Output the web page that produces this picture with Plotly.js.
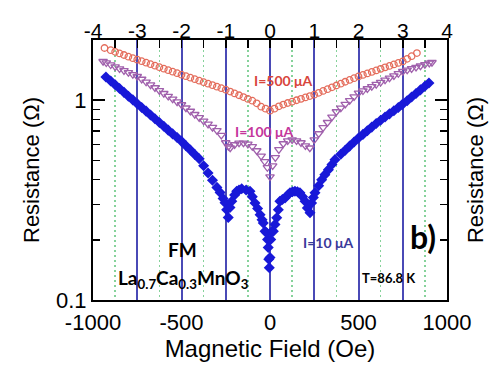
<!DOCTYPE html>
<html>
<head>
<meta charset="utf-8">
<script src="https://cdn.plot.ly/plotly-3.0.1.min.js"></script>
<style>html,body{margin:0;padding:0;background:#fff;}#chart{width:494px;height:365px;}</style>
</head>
<body>
<div id="chart"></div>
<script>
// ---- Data ----
// I = 500 uA (open circles)
const field500 = [-935,-900,-875,-850,-825,-800,-775,-750,-725,-700,-675,-650,-625,-600,-575,-550,-525,-500,-475,-450,-425,-400,-375,-350,-325,-300,-275,-250,-225,-200,-175,-150,-125,-100,-75,-50,-25,0,25,50,75,100,125,150,175,200,225,250,275,300,325,350,375,400,425,450,475,500,525,550,575,600,625,650,675,700,725,750,775,800,830];
const res500 = [1.824,1.778,1.746,1.713,1.683,1.650,1.622,1.594,1.567,1.540,1.514,1.488,1.462,1.437,1.413,1.388,1.365,1.341,1.318,1.296,1.274,1.252,1.230,1.209,1.189,1.168,1.148,1.128,1.104,1.081,1.058,1.036,1.014,0.994,0.964,0.928,0.907,0.886,0.907,0.931,0.950,0.968,0.983,0.999,1.015,1.032,1.048,1.065,1.088,1.112,1.135,1.160,1.184,1.209,1.236,1.262,1.288,1.315,1.338,1.361,1.385,1.409,1.434,1.459,1.484,1.510,1.536,1.563,1.610,1.660,1.721];

// I = 100 uA (open triangles)
const field100 = [-943,-925,-900,-875,-850,-825,-800,-775,-750,-725,-700,-675,-650,-625,-600,-575,-550,-525,-500,-475,-450,-425,-400,-375,-350,-325,-300,-275,-250,-235,-225,-200,-175,-150,-125,-100,-75,-50,-30,-15,0,15,30,50,75,100,125,150,175,200,225,250,275,300,325,350,375,400,425,450,475,500,525,550,575,600,625,650,675,700,725,750,775,800,825,850,875,900,915];
const res100 = [1.563,1.538,1.503,1.470,1.437,1.406,1.376,1.345,1.315,1.274,1.232,1.193,1.155,1.117,1.081,1.047,1.014,0.981,0.950,0.915,0.881,0.849,0.818,0.787,0.759,0.731,0.705,0.668,0.613,0.586,0.577,0.599,0.611,0.611,0.603,0.586,0.559,0.525,0.493,0.460,0.414,0.470,0.516,0.566,0.606,0.627,0.634,0.627,0.613,0.592,0.577,0.634,0.680,0.729,0.774,0.824,0.876,0.914,0.954,0.997,1.040,1.086,1.114,1.142,1.171,1.200,1.230,1.262,1.292,1.326,1.359,1.393,1.416,1.439,1.461,1.484,1.508,1.533,1.545];

// I = 10 uA (filled diamonds)
const field10 = [-927,-900,-875,-850,-825,-800,-775,-750,-725,-700,-675,-650,-625,-600,-575,-550,-525,-500,-475,-450,-425,-400,-375,-350,-325,-300,-282,-265,-254,-245,-236,-226,-216,-200,-188,-175,-160,-135,-113,-100,-85,-70,-56,-45,-38,-28,-19,-14,-10,-7,-4,0,4,10,19,28,38,47,56,70,85,100,113,127,141,155,169,184,198,211,226,235,245,254,275,292,310,330,350,367,400,425,450,475,500,525,550,575,600,625,650,675,700,725,747,775,800,825,850,875,898];
const res10 = [1.306,1.246,1.193,1.143,1.094,1.047,1.003,0.960,0.919,0.881,0.843,0.807,0.773,0.740,0.708,0.678,0.650,0.622,0.592,0.563,0.535,0.509,0.470,0.432,0.397,0.366,0.345,0.322,0.307,0.283,0.259,0.290,0.312,0.335,0.350,0.355,0.360,0.355,0.350,0.329,0.306,0.287,0.267,0.252,0.243,0.221,0.217,0.201,0.183,0.160,0.145,0.163,0.201,0.220,0.221,0.239,0.258,0.283,0.312,0.318,0.324,0.335,0.344,0.348,0.350,0.348,0.344,0.329,0.312,0.289,0.273,0.306,0.326,0.344,0.373,0.400,0.424,0.449,0.476,0.504,0.536,0.562,0.589,0.617,0.647,0.674,0.703,0.733,0.764,0.794,0.824,0.854,0.886,0.919,0.950,0.994,1.036,1.080,1.126,1.173,1.219];

// Axis tick labels
const bottomTicks = [-1000,-500,0,500,1000];
const bottomTickText = ["-1000","-500","0","500","1000"];
const topTicks = [-4,-3,-2,-1,0,1,2,3,4];
const topTickText = ["-4","-3","-2","-1","0","1","2","3","4"];
const yTicks = [0.1, 1];
const yTickText = ["0.1", "1"];
const yMinor = [0.2,0.3,0.4,0.5,0.6,0.7,0.8,0.9,2];

// ---- Layout helpers ----
const W = 494, H = 365, L = 93, R = 47, T = 40, B = 65;
const pw = W - L - R, ph = H - T - B;
const px = x => (x - L) / pw;
const py = y => (H - B - y) / ph;

const traces = [
  {x: field500, y: res500, mode: 'markers', type: 'scatter',
   marker: {symbol: 'circle-open', size: 6.5, color: '#e46d5c', line: {width: 1.3}}},
  {x: field100, y: res100, mode: 'markers', type: 'scatter',
   marker: {symbol: 'triangle-down-open', size: 7.5, color: '#a060ac', line: {width: 1.3}}},
  {x: field10, y: res10, mode: 'markers', type: 'scatter',
   marker: {symbol: 'diamond', size: 8.5, color: '#1818d8'}},
  {x: [null], y: [null], xaxis: 'x2', yaxis: 'y2', mode: 'markers', hoverinfo: 'skip'}
];

const axFont = {family: 'Liberation Sans, Arial, sans-serif', size: 22, color: '#000'};
const annFont = (size, color) => ({family: 'Lato, Open Sans, sans-serif', size: size, color: color});

const layout = {
  width: W, height: H,
  margin: {l: L, r: R, t: T, b: B, pad: 0},
  paper_bgcolor: '#fff', plot_bgcolor: '#fff',
  showlegend: false,
  xaxis: {
    range: [-1000, 1000], tickmode: 'array', tickvals: bottomTicks, ticktext: bottomTickText,
    ticks: '', showgrid: false, zeroline: false,
    showline: true, linecolor: '#000', linewidth: 2,
    tickfont: axFont, ticklabelstandoff: 2,
    title: {text: 'Magnetic Field (Oe)', font: {family: axFont.family, size: 24, color: '#000'}, standoff: 2}
  },
  xaxis2: {
    overlaying: 'x', side: 'top', anchor: 'y', range: [-4, 4],
    tickmode: 'array', tickvals: topTicks, ticktext: topTickText,
    ticks: 'inside', ticklen: 8, tickwidth: 1.5, tickcolor: '#000',
    showgrid: true, gridcolor: '#4a4ab6', gridwidth: 2,
    minor: {dtick: 0.5, ticks: 'inside', ticklen: 8, tickwidth: 1.5, tickcolor: '#000',
            showgrid: true, gridcolor: '#86d29a', gridwidth: 1.5, griddash: '1.5px,3.5px'},
    zeroline: false, showline: true, linecolor: '#000', linewidth: 2,
    tickfont: {family: axFont.family, size: 21, color: '#000'}, ticklabelstandoff: -8
  },
  yaxis: {
    type: 'log', range: [-1, Math.log10(2)],
    tickmode: 'array', tickvals: yTicks, ticktext: yTickText,
    ticks: 'inside', ticklen: 12, tickwidth: 1.5, tickcolor: '#000',
    minor: {tickmode: 'array', tickvals: yMinor, ticks: 'inside', ticklen: 7, tickwidth: 1.5, tickcolor: '#000', showgrid: false},
    showgrid: false, zeroline: false,
    showline: true, linecolor: '#000', linewidth: 2,
    tickfont: axFont,
    title: {text: 'Resistance (Ω)', font: axFont, standoff: 10}
  },
  yaxis2: {
    overlaying: 'y', side: 'right', anchor: 'x', type: 'log', range: [-1, Math.log10(2)],
    tickmode: 'array', tickvals: yTicks, ticktext: yTickText, showticklabels: false,
    ticks: 'inside', ticklen: 12, tickwidth: 1.5, tickcolor: '#000',
    minor: {tickmode: 'array', tickvals: yMinor, ticks: 'inside', ticklen: 7, tickwidth: 1.5, tickcolor: '#000', showgrid: false},
    showgrid: false, zeroline: false,
    showline: true, linecolor: '#000', linewidth: 2,
    title: {text: 'Resistance (Ω)', font: axFont, standoff: 20}
  },
  annotations: [
    {text: '<b>I=500 μA</b>', x: px(283), y: py(80), font: annFont(14, '#d8463c')},
    {text: '<b>I=100 μA</b>', x: px(264), y: py(131), font: annFont(14, '#c4379c')},
    {text: '<b>I=10 μA</b>', x: px(328), y: py(242), font: annFont(14, '#3a3a9a')},
    {text: '<b>b)</b>', x: px(423), y: py(236), font: annFont(32, '#000')},
    {text: '<b>T=86.8 K</b>', x: px(389), y: py(278), font: annFont(13, '#000')},
    {text: '<b>FM</b>', x: px(182), y: py(249), font: annFont(19, '#000')},
    {text: '<b>La<sub>0.7</sub>Ca<sub>0.3</sub>MnO<sub>3</sub></b>', x: px(183), y: py(279), font: annFont(19, '#000')}
  ].map(a => Object.assign({xref: 'paper', yref: 'paper', showarrow: false, xanchor: 'center', yanchor: 'middle'}, a))
};

Plotly.newPlot('chart', traces, layout, {staticPlot: true, displayModeBar: false});
</script>
</body>
</html>
